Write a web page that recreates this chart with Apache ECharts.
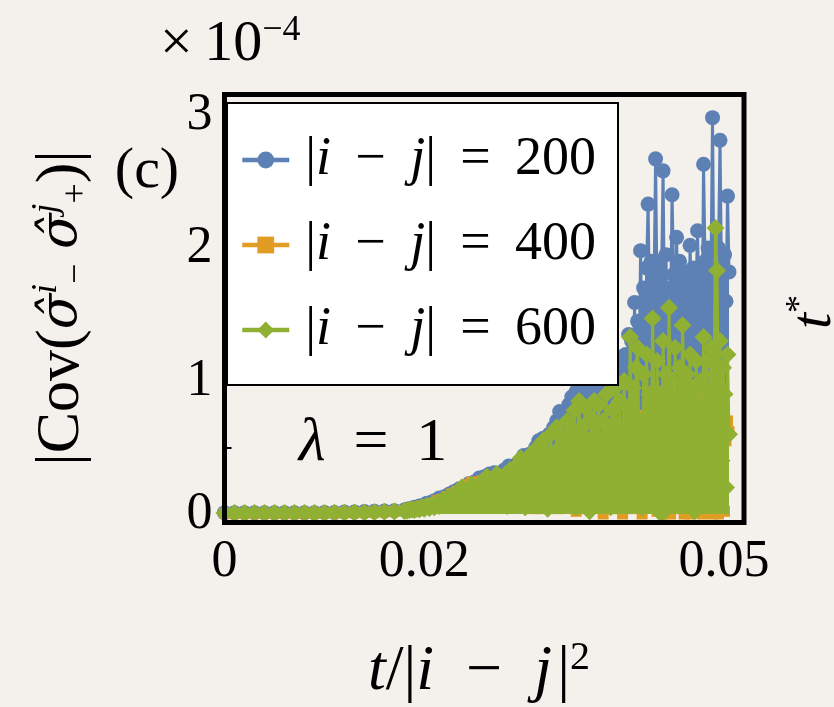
<!DOCTYPE html>
<html>
	<head>
		<meta charset="utf-8">
		<title>Cov vs t</title>
		<script src="https://cdn.jsdelivr.net/npm/echarts@6/dist/echarts.min.js"></script>
		<style>
			html, body { margin: 0; padding: 0; background: #f4f1ec; }
		</style>
	</head>
	<body>
		<div id="main" style="width: 834px;height:707px;"></div>
		<script type="text/javascript">
			// t/|i-j|^2 sampling (shared by the three curves)
			const tValues = [
				0, 0.001, 0.002, 0.003, 0.004, 0.005, 0.006, 0.007, 0.008, 0.009,
				0.01, 0.011, 0.012, 0.013, 0.014, 0.015, 0.016, 0.017, 0.018,
				0.01825, 0.0185, 0.01875, 0.019, 0.01925, 0.0195, 0.01975, 0.02, 0.02025, 0.0205,
				0.02075, 0.021, 0.02125, 0.0215, 0.02175, 0.022, 0.02225, 0.0225, 0.02275, 0.023,
				0.02325, 0.0235, 0.02375, 0.024, 0.02425, 0.0245, 0.02475, 0.025, 0.02525, 0.0255,
				0.02575, 0.026, 0.02625, 0.0265, 0.02675, 0.027, 0.02725, 0.0275, 0.02775, 0.028,
				0.02815, 0.0283, 0.02845, 0.0286, 0.02875, 0.0289, 0.02905, 0.0292, 0.02935, 0.0295,
				0.02965, 0.0298, 0.02995, 0.0301, 0.03025, 0.0304, 0.03055, 0.0307, 0.03085, 0.031,
				0.03115, 0.0313, 0.03145, 0.0316, 0.03175, 0.0319, 0.03205, 0.0322, 0.03235, 0.0325,
				0.03265, 0.0328, 0.03295, 0.0331, 0.03325, 0.0334, 0.03355, 0.0337, 0.03385, 0.034,
				0.03415, 0.0343, 0.03445, 0.0346, 0.03475, 0.0349, 0.03505, 0.0352, 0.03535, 0.0355,
				0.03565, 0.0358, 0.03595, 0.0361, 0.03625, 0.0364, 0.03655, 0.0367, 0.03685, 0.037,
				0.03715, 0.0373, 0.03745, 0.0376, 0.03775, 0.0379, 0.03805, 0.0382, 0.03835, 0.0385,
				0.03865, 0.0388, 0.03895, 0.0391, 0.03925, 0.0394, 0.03955, 0.0397, 0.03985, 0.04,
				0.04015, 0.0403, 0.04045, 0.0406, 0.04075, 0.0409, 0.04105, 0.0412, 0.04135, 0.0415,
				0.04165, 0.0418, 0.04195, 0.0421, 0.04225, 0.0424, 0.04255, 0.0427, 0.04285, 0.043,
				0.04315, 0.0433, 0.04345, 0.0436, 0.04375, 0.0439, 0.04405, 0.0442, 0.04435, 0.0445,
				0.04465, 0.0448, 0.04495, 0.0451, 0.04525, 0.0454, 0.04555, 0.0457, 0.04585, 0.046,
				0.04615, 0.0463, 0.04645, 0.0466, 0.04675, 0.0469, 0.04705, 0.0472, 0.04735, 0.0475,
				0.04765, 0.0478, 0.04795, 0.0481, 0.04825, 0.0484, 0.04855, 0.0487, 0.04885, 0.049,
				0.04915, 0.0493, 0.04945, 0.0496, 0.04975, 0.0499, 0.05005, 0.0502, 0.05035, 0.0505
			];
			// |Cov| in units of 1e-4
			const cov200 = [
				0.01, 0.01, 0.01, 0.01, 0.01, 0.01, 0.01, 0.01, 0.01, 0.01,
				0.012, 0.012, 0.015, 0.015, 0.018, 0.02, 0.022, 0.025, 0.03,
				0.035, 0.04, 0.03, 0.05, 0.045, 0.06, 0.04, 0.07, 0.08, 0.05,
				0.09, 0.1, 0.07, 0.12, 0.09, 0.13, 0.1, 0.15, 0.12, 0.17,
				0.11, 0.19, 0.14, 0.2, 0.16, 0.23, 0.15, 0.24, 0.19, 0.27,
				0.2, 0.28, 0.22, 0.3, 0.18, 0.31, 0.24, 0.3, 0.2, 0.33,
				0.32, 0.15, 0.36, 0.22, 0.3, 0.1, 0.34, 0.25, 0.38, 0.18,
				0.4, 0.2, 0.44, 0.3, 0.35, 0.12, 0.45, 0.28, 0.42, 0.22,
				0.5, 0.3, 0.55, 0.2, 0.48, 0.57, 0.35, 0.52, 0.25, 0.6,
				0.55, 0.4, 0.65, 0.3, 0.7, 0.5, 0.77, 0.35, 0.68, 0.6,
				0.75, 0.45, 0.82, 0.6, 0.88, 0.3, 0.78, 0.92, 0.55, 0.95,
				0.85, 0.5, 0.95, 0.7, 0.9, 0.4, 0.97, 0.65, 0.88, 0.8,
				0.92, 0.6, 0.98, 0.45, 0.9, 0.75, 1.0, 0.55, 0.95, 0.7,
				1.0, 0.65, 1.05, 0.8, 0.95, 0.5, 1.1, 1.18, 0.85, 1.12,
				1.2, 0.7, 1.35, 0.9, 1.3, 1.0, 1.59, 0.6, 1.45, 1.1,
				1.98, 1.2, 1.7, 0.8, 1.85, 2.33, 1.5, 1.9, 1.0, 1.75,
				2.67, 1.6, 1.9, 1.1, 1.8, 2.58, 1.4, 1.95, 0.9, 1.7,
				1.5, 2.4, 1.8, 1.2, 2.08, 1.6, 1.9, 0.8, 1.7, 1.82,
				1.3, 1.75, 1.0, 2.02, 1.6, 1.85, 0.9, 1.7, 2.13, 1.5,
				1.8, 1.2, 2.63, 1.9, 1.5, 2.0, 1.1, 1.85, 2.98, 1.6,
				1.9, 1.4, 2.0, 2.81, 1.75, 1.2, 1.95, 1.6, 2.39, 1.82
			];
			const cov400 = [
				0.005, 0.005, 0.005, 0.005, 0.005, 0.005, 0.005, 0.005, 0.006, 0.006,
				0.007, 0.008, 0.009, 0.01, 0.012, 0.014, 0.016, 0.02, 0.025,
				0.03, 0.035, 0.04, 0.03, 0.05, 0.04, 0.06, 0.05, 0.07, 0.06,
				0.08, 0.06, 0.1, 0.08, 0.11, 0.07, 0.13, 0.1, 0.15, 0.09,
				0.17, 0.12, 0.19, 0.14, 0.22, 0.1, 0.24, 0.16, 0.21, 0.12,
				0.25, 0.15, 0.27, 0.1, 0.24, 0.2, 0.28, 0.13, 0.26, 0.18,
				0.18, 0.05, 0.22, 0.1, 0.24, 0.06, 0.2, 0.25, 0.08, 0.15,
				0.26, 0.05, 0.22, 0.12, 0.28, 0.08, 0.25, 0.15, 0.3, 0.04,
				0.3, 0.1, 0.26, 0.04, 0.33, 0.18, 0.35, 0.08, 0.3, 0.15,
				0.38, 0.1, 0.32, 0.2, 0.4, 0.04, 0.35, 0.22, 0.4, 0.12,
				0.4, 0.06, 0.45, 0.22, 0.36, 0.1, 0.46, 0.02, 0.42, 0.25,
				0.48, 0.15, 0.38, 0.04, 0.52, 0.25, 0.45, 0.1, 0.5, 0.3,
				0.52, 0.08, 0.42, 0.22, 0.55, 0.0, 0.48, 0.32, 0.56, 0.15,
				0.45, 0.04, 0.58, 0.25, 0.52, 0.1, 0.6, 0.36, 0.0, 0.55,
				0.65, 0.22, 0.5, 0.04, 0.7, 0.38, 0.58, 0.12, 0.72, 0.3,
				0.62, 0.0, 0.74, 0.26, 0.55, 0.08, 0.78, 0.42, 0.66, 0.15,
				0.7, 0.02, 0.8, 0.34, 0.58, 0.0, 0.74, 0.46, 0.84, 0.2,
				0.0, 0.66, 0.3, 0.78, 0.04, 0.55, 0.84, 0.22, 0.7, 0.0,
				0.8, 0.15, 0.62, 0.0, 0.78, 0.38, 0.88, 0.02, 0.66, 0.26,
				0.74, 0.0, 0.85, 0.3, 0.58, 0.04, 0.92, 0.46, 0.0, 0.7,
				0.78, 0.22, 0.0, 0.66, 0.38, 0.86, 0.02, 0.55, 0.7, 0.62
			];
			const cov600 = [
				0.008, 0.008, 0.008, 0.008, 0.008, 0.008, 0.008, 0.008, 0.008, 0.008,
				0.008, 0.009, 0.01, 0.011, 0.012, 0.014, 0.016, 0.018, 0.022,
				0.025, 0.03, 0.035, 0.03, 0.04, 0.035, 0.05, 0.04, 0.06, 0.045,
				0.07, 0.05, 0.08, 0.06, 0.1, 0.07, 0.12, 0.08, 0.14, 0.09,
				0.16, 0.1, 0.2, 0.12, 0.17, 0.08, 0.22, 0.14, 0.19, 0.1,
				0.24, 0.16, 0.28, 0.12, 0.25, 0.18, 0.3, 0.14, 0.27, 0.2,
				0.3, 0.06, 0.2, 0.33, 0.1, 0.25, 0.35, 0.14, 0.28, 0.08,
				0.42, 0.18, 0.3, 0.05, 0.38, 0.24, 0.44, 0.12, 0.34, 0.2,
				0.08, 0.5, 0.28, 0.4, 0.15, 0.55, 0.22, 0.46, 0.04, 0.35,
				0.6, 0.18, 0.42, 0.3, 0.65, 0.1, 0.5, 0.25, 0.58, 0.38,
				0.12, 0.7, 0.45, 0.2, 0.62, 0.35, 0.78, 0.05, 0.55, 0.85,
				0.3, 0.65, 0.15, 0.8, 0.45, 0.55, 0.02, 0.72, 0.38, 0.85,
				0.6, 0.2, 0.82, 0.42, 0.1, 0.7, 0.5, 0.9, 0.28, 0.65,
				0.05, 0.78, 0.4, 0.95, 0.25, 0.62, 0.85, 0.15, 0.55, 1.0,
				0.35, 0.8, 0.1, 1.33, 0.55, 0.95, 0.25, 1.1, 1.25, 0.45,
				0.7, 0.05, 1.05, 0.4, 1.2, 0.6, 0.9, 0.2, 1.47, 0.8,
				0.3, 1.15, 0.55, 0.9, 0.0, 1.3, 0.7, 1.05, 0.45, 1.55,
				0.6, 1.0, 0.15, 1.25, 0.8, 0.35, 1.1, 0.5, 1.42, 0.9,
				0.2, 1.05, 0.65, 1.2, 0.4, 0.95, 0.02, 1.15, 0.75, 0.5,
				1.0, 0.3, 1.33, 0.6, 1.15, 0.1, 0.85, 1.25, 0.45, 1.05,
				2.15, 1.83, 0.7, 1.3, 0.4, 1.1, 0.9, 0.2, 1.2, 0.6
			];
			const seriesNames = ['200', '400', '600'];
			const seriesColors = ['#5e81b5', '#e19c24', '#8fb032'];
			const xTickValues = [0, 0.02, 0.05];
			const yLabelValues = [0, 1, 2, 3];
			const yTickValues = [0, 0.5, 1, 1.5, 2, 2.5, 3];

			const serif = 'Liberation Serif';
			const bg = '#f4f1ec';
			const gap = ' \u2009';

			function pairs(vals) {
				return tValues.map((t, i) => [t, vals[i]]);
			}

			// the curves are sampled so densely in the original that the zigzag
			// reads as a solid band; a same-colour area under each line mimics that.
			// each curve gets its own z so later curves sit fully on top
			function curve(name, vals, color, symbol, size, z) {
				return {
					name: name, type: 'line', data: pairs(vals), z: z,
					symbol: symbol, symbolSize: size, color: color,
					lineStyle: { width: 3 },
					areaStyle: { color: color, opacity: 1 }
				};
			}

			let myChart = echarts.init(document.getElementById('main'));

			const richMath = {
				n: { fontFamily: serif, fontSize: 58, lineHeight: 64 },
				m: { fontFamily: serif, fontSize: 58, lineHeight: 64, fontStyle: 'italic' },
				big: { fontFamily: serif, fontSize: 62, lineHeight: 66 },
				bigi: { fontFamily: serif, fontSize: 62, lineHeight: 66, fontStyle: 'italic' },
				xl: { fontFamily: serif, fontSize: 64, lineHeight: 68 },
				xli: { fontFamily: serif, fontSize: 64, lineHeight: 68, fontStyle: 'italic' },
				h: { fontFamily: 'DejaVu Serif', fontSize: 52, lineHeight: 64, fontStyle: 'italic' },
				sup: { fontFamily: serif, fontSize: 36, lineHeight: 36, verticalAlign: 'top' },
				sup2: { fontFamily: serif, fontSize: 40, lineHeight: 40, verticalAlign: 'top' },
				supi: { fontFamily: serif, fontSize: 36, lineHeight: 36, verticalAlign: 'top', fontStyle: 'italic' },
				sub: { fontFamily: serif, fontSize: 36, lineHeight: 36, verticalAlign: 'bottom' }
			};

			myChart.setOption({
				backgroundColor: bg,
				animation: false,
				grid: {
					left: 224.5, top: 94.5, right: 90, bottom: 184.5,
					outerBoundsMode: 'none'
				},
				legend: {
					data: seriesNames,
					orient: 'vertical',
					left: 240,
					top: 130,
					padding: 0,
					itemWidth: 47,
					itemHeight: 21,
					itemGap: 25,
					z: 12,
					lineStyle: { width: 4.5 },
					formatter: n => `{n||}{it|i}{n|${gap}−${gap}}{it|j}{n||${gap}=${gap}${n}}`,
					textStyle: {
						color: '#000',
						fontFamily: serif,
						fontSize: 54,
						lineHeight: 60,
						padding: [0, 0, 0, 11],
						rich: {
							n: { fontFamily: serif, fontSize: 54, lineHeight: 60 },
							it: { fontFamily: serif, fontSize: 54, lineHeight: 60, fontStyle: 'italic' }
						}
					}
				},
				xAxis: {
					type: 'value',
					min: 0,
					max: 0.052,
					axisLine: { show: false },
					splitLine: { show: false },
					axisTick: {
						inside: true, length: 7, customValues: xTickValues,
						lineStyle: { color: '#000', width: 2 }
					},
					axisLabel: {
						customValues: xTickValues,
						margin: 14,
						fontFamily: serif,
						fontSize: 52,
						color: '#000',
						formatter: v => (v === 0 ? '0' : v.toFixed(2))
					}
				},
				yAxis: {
					type: 'value',
					min: -0.064,
					max: 3.154,
					axisLine: { show: false },
					splitLine: { show: false },
					axisTick: {
						inside: true, length: 7, customValues: yTickValues,
						lineStyle: { color: '#000', width: 2 }
					},
					axisLabel: {
						customValues: yLabelValues,
						margin: 12,
						fontFamily: serif,
						fontSize: 52,
						color: '#000',
						formatter: v => String(v)
					}
				},
				series: [
					curve('200', cov200, seriesColors[0], 'circle', 15, 2),
					curve('400', cov400, seriesColors[1], 'rect', 11, 3),
					curve('600', cov600, seriesColors[2], 'diamond', 18, 4)
				],
				graphic: [
					// legend box
					{
						type: 'rect', z: 10,
						shape: { x: 227, y: 103, width: 391, height: 282 },
						style: { fill: '#fff', stroke: '#000', lineWidth: 2 }
					},
					// plot frame
					{
						type: 'rect', z: 20,
						shape: { x: 224.5, y: 94.5, width: 519.5, height: 428 },
						style: { fill: 'none', stroke: '#000', lineWidth: 5 }
					},
					{
						type: 'text', z: 10, x: 373, y: 444,
						style: { text: `{bigi|λ}{big|${gap}=${gap}1}`, align: 'center', verticalAlign: 'middle', rich: richMath }
					},
					{
						type: 'text', z: 10, x: 147, y: 172,
						style: { text: '{n|(c)}', align: 'center', verticalAlign: 'middle', rich: richMath }
					},
					{
						type: 'text', z: 10, x: 160, y: 45,
						style: { text: '{n|×\u200910}{sup|−4}', align: 'left', verticalAlign: 'middle', rich: richMath }
					},
					{
						type: 'text', z: 10, x: 479, y: 672,
						style: {
							text: '{xli|t}{xl|/|}{xli|i}{xl|\u2002−\u2002}{xli|j}{xl|\u200a|}{sup2|2}',
							align: 'center', verticalAlign: 'middle', rich: richMath
						}
					},
					{
						type: 'text', z: 10, x: 62, y: 308, rotation: Math.PI / 2,
						style: {
							text: '{big||Cov(}{h|σ\u0302}{supi|i}{sub|−}{n| }{h|σ\u0302}{supi|j}{sub|+}{big|)|}',
							align: 'center', verticalAlign: 'middle', rich: richMath
						}
					},
					{
						type: 'text', z: 10, x: 815, y: 312, rotation: Math.PI / 2,
						style: { text: '{m|t}{sup|*}', align: 'center', verticalAlign: 'middle', rich: richMath }
					}
				]
			});
		</script>
	</body>
</html>
